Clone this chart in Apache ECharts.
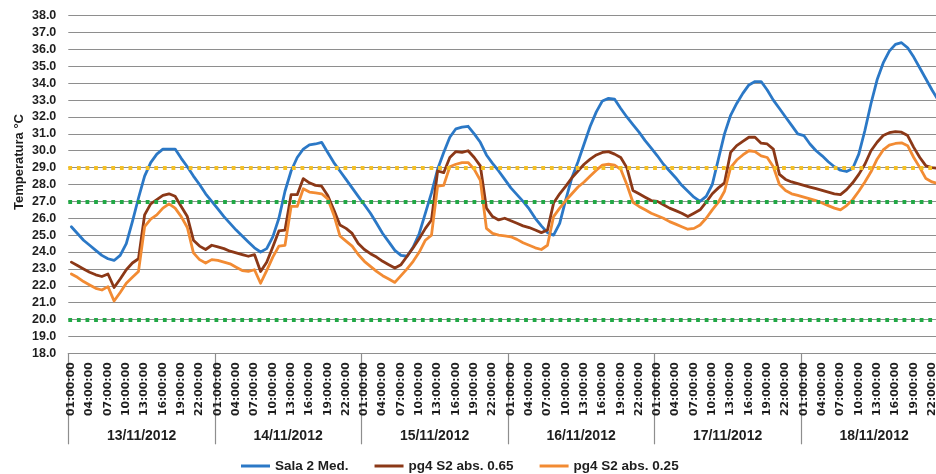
<!DOCTYPE html>
<html>
<head>
<meta charset="utf-8">
<script src="https://cdn.jsdelivr.net/npm/echarts@6/dist/echarts.min.js"></script>
<style>
  html, body { margin: 0; padding: 0; background: #fff; overflow: hidden; width: 936px; height: 474px; }
  /* the plot runs slightly past the right edge of the page */
  #chart { width: 948px; height: 474px; }
</style>
</head>
<body>
<div id="chart"></div>
<script>
// Hourly readings, 13/11/2012 - 18/11/2012
const days = ['13/11/2012', '14/11/2012', '15/11/2012', '16/11/2012', '17/11/2012', '18/11/2012'];
const hourLabels = ['01:00:00','02:00:00','03:00:00','04:00:00','05:00:00','06:00:00','07:00:00','08:00:00',
  '09:00:00','10:00:00','11:00:00','12:00:00','13:00:00','14:00:00','15:00:00','16:00:00',
  '17:00:00','18:00:00','19:00:00','20:00:00','21:00:00','22:00:00','23:00:00','00:00:00'];

const seriesNames = ['Sala 2 Med.', 'pg4 S2 abs. 0.65', 'pg4 S2 abs. 0.25'];

// Measured room temperature (°C)
const salaMed = [
  25.5,25.1,24.7,24.4,24.1,23.8,23.6,23.5,23.8,24.5,25.8,27.2,28.5,29.3,29.8,30.1,30.1,30.1,29.55,29.05,28.5,28.0,27.45,27.0,
  26.55,26.1,25.7,25.3,24.95,24.6,24.25,24.0,24.2,24.9,26.0,27.6,28.8,29.6,30.1,30.35,30.4,30.5,29.9,29.3,28.8,28.3,27.8,27.3,
  26.8,26.3,25.7,25.1,24.6,24.1,23.8,23.75,24.3,25.1,26.3,27.5,28.9,29.9,30.8,31.3,31.4,31.45,31.0,30.5,29.75,29.25,28.8,28.3,
  27.8,27.4,27.0,26.55,26.0,25.55,25.15,25.0,25.7,27.1,28.4,29.35,30.4,31.45,32.3,32.95,33.1,33.05,32.5,32.0,31.55,31.1,30.6,30.15,
  29.7,29.2,28.8,28.4,27.95,27.6,27.25,27.0,27.3,28.0,29.5,31.0,32.1,32.8,33.4,33.9,34.1,34.1,33.6,33.0,32.5,32.0,31.5,31.0,
  30.9,30.4,30.0,29.7,29.35,29.05,28.85,28.77,28.95,29.8,31.2,32.8,34.2,35.2,35.9,36.3,36.4,36.1,35.55,34.9,34.25,33.6,33.0,32.4
];

// Simulation, absorptance 0.65 (°C)
const pg4Abs065 = [
  23.4,23.2,23.0,22.8,22.65,22.55,22.7,21.9,22.4,22.95,23.35,23.6,26.2,26.85,27.1,27.35,27.45,27.3,26.7,26.1,24.7,24.35,24.15,24.4,
  24.3,24.2,24.05,23.95,23.85,23.75,23.85,22.85,23.4,24.3,25.25,25.3,27.4,27.4,28.35,28.1,27.95,27.9,27.35,26.5,25.6,25.4,25.1,24.5,
  24.15,23.9,23.7,23.45,23.25,23.05,23.25,23.75,24.25,24.8,25.4,25.9,28.8,28.7,29.6,29.95,29.9,30.0,29.6,29.1,26.6,26.1,25.9,26.0,
  25.85,25.7,25.55,25.45,25.3,25.15,25.3,26.9,27.45,27.9,28.4,28.8,29.2,29.5,29.75,29.9,29.95,29.8,29.6,29.0,27.65,27.45,27.25,27.05,
  27.0,26.8,26.6,26.45,26.3,26.1,26.3,26.5,26.95,27.45,27.8,28.1,29.9,30.3,30.55,30.8,30.8,30.45,30.4,30.1,28.6,28.3,28.15,28.05,
  27.95,27.85,27.75,27.65,27.55,27.45,27.4,27.7,28.1,28.6,29.2,30.0,30.5,30.9,31.07,31.13,31.1,30.9,30.2,29.6,29.1,29.0,28.95,28.9
];

// Simulation, absorptance 0.25 (°C)
const pg4Abs025 = [
  22.7,22.5,22.25,22.05,21.85,21.75,21.95,21.1,21.6,22.15,22.5,22.85,25.5,25.95,26.2,26.6,26.85,26.6,26.1,25.45,23.95,23.55,23.35,23.55,
  23.5,23.4,23.3,23.1,22.9,22.85,22.95,22.15,22.9,23.7,24.35,24.4,26.7,26.7,27.75,27.55,27.5,27.45,27.15,26.2,24.95,24.65,24.35,23.85,
  23.45,23.15,22.85,22.6,22.4,22.2,22.6,23.0,23.45,24.0,24.7,25.0,27.9,27.95,29.05,29.2,29.3,29.3,28.9,28.25,25.4,25.1,25.0,24.95,
  24.9,24.75,24.55,24.4,24.25,24.15,24.4,26.1,26.6,27.05,27.45,27.85,28.15,28.5,28.85,29.15,29.2,29.15,28.9,28.0,26.95,26.7,26.5,26.3,
  26.15,26.0,25.8,25.65,25.5,25.35,25.4,25.6,26.0,26.5,26.95,27.6,29.0,29.45,29.75,30.0,29.95,29.7,29.6,29.05,28.0,27.65,27.45,27.35,
  27.25,27.15,27.05,26.9,26.75,26.6,26.5,26.75,27.1,27.6,28.15,28.75,29.5,30.05,30.33,30.43,30.47,30.3,29.6,29.0,28.35,28.15,28.05,28.0
];

// Comfort limits drawn as dotted reference lines
const upperLimit = [29.0];
const comfortLimits = [27.0, 20.0];

const yMin = 18, yMax = 38, yStep = 1;

const colors = {
  sala: '#2b78c6',
  abs065: '#8b3817',
  abs025: '#f28b33',
  upper: '#f5c023',
  comfort: '#22a846',
  grid: '#8e8e8e',
  text: '#1e1e1e'
};

const FONT = '"Liberation Sans", Arial, sans-serif';

const categories = [];
days.forEach(d => hourLabels.forEach(h => categories.push(d + ' ' + h)));

const chart = echarts.init(document.getElementById('chart'), null, { renderer: 'canvas' });

function lineSeries(name, data, color) {
  return {
    name: name,
    type: 'line',
    data: data,
    xAxisIndex: 0,
    yAxisIndex: 0,
    symbol: 'none',
    smooth: false,
    lineStyle: { color: color, width: 2.8, cap: 'round', join: 'round' },
    itemStyle: { color: color },
    z: 3
  };
}

function refLines(values, color) {
  return values.map(v => ({
    yAxis: v,
    lineStyle: { color: color, width: 3.8, type: [3.8, 4.8], cap: 'butt' }
  }));
}

chart.setOption({
  animation: false,
  backgroundColor: '#fff',
  textStyle: { fontFamily: FONT },
  grid: { left: 68.3, right: 0.7, top: 15.7, bottom: 120.7, containLabel: false },
  legend: {
    data: seriesNames,
    left: 236,
    top: 454,
    icon: 'rect',
    itemWidth: 29,
    itemHeight: 3,
    itemGap: 26,
    textStyle: { fontFamily: FONT, fontWeight: 'bold', fontSize: 13.5, color: colors.text }
  },
  graphic: [{
    type: 'text',
    x: 19,
    y: 162,
    rotation: Math.PI / 2,
    style: {
      text: 'Temperatura °C',
      font: 'bold 13px ' + FONT,
      fill: colors.text,
      textAlign: 'center',
      textVerticalAlign: 'middle'
    }
  }],
  xAxis: [{
    type: 'category',
    data: categories,
    boundaryGap: true,
    position: 'bottom',
    axisLine: { show: true, lineStyle: { color: colors.grid, width: 1.2 } },
    axisTick: { show: false },
    splitLine: { show: false },
    axisLabel: {
      interval: 2,
      rotate: 90,
      margin: 9,
      fontFamily: '"DejaVu Sans", sans-serif',
      fontWeight: 'bold',
      fontSize: 10.8,
      color: colors.text,
      formatter: v => v.split(' ')[1]
    }
  }, {
    type: 'category',
    data: days,
    boundaryGap: true,
    position: 'bottom',
    axisLine: { show: false },
    axisTick: { show: true, length: 91, lineStyle: { color: colors.grid, width: 1.2 } },
    axisLabel: {
      margin: 76,
      fontFamily: FONT,
      fontWeight: 'bold',
      fontSize: 14,
      color: colors.text
    }
  }],
  yAxis: {
    type: 'value',
    min: yMin,
    max: yMax,
    interval: yStep,
    axisLine: { show: false },
    axisTick: { show: false },
    splitLine: { show: true, lineStyle: { color: colors.grid, width: 1.2 } },
    axisLabel: {
      margin: 12,
      fontFamily: FONT,
      fontWeight: 'bold',
      fontSize: 12.5,
      color: colors.text,
      formatter: v => v.toFixed(1)
    }
  },
  series: [
    lineSeries(seriesNames[0], salaMed, colors.sala),
    lineSeries(seriesNames[1], pg4Abs065, colors.abs065),
    lineSeries(seriesNames[2], pg4Abs025, colors.abs025),
    {
      name: 'limits',
      type: 'line',
      data: [],
      symbol: 'none',
      z: 4,
      markLine: {
        silent: true,
        symbol: ['none', 'none'],
        label: { show: false },
        data: refLines(upperLimit, colors.upper).concat(refLines(comfortLimits, colors.comfort))
      }
    }
  ]
});
</script>
</body>
</html>
